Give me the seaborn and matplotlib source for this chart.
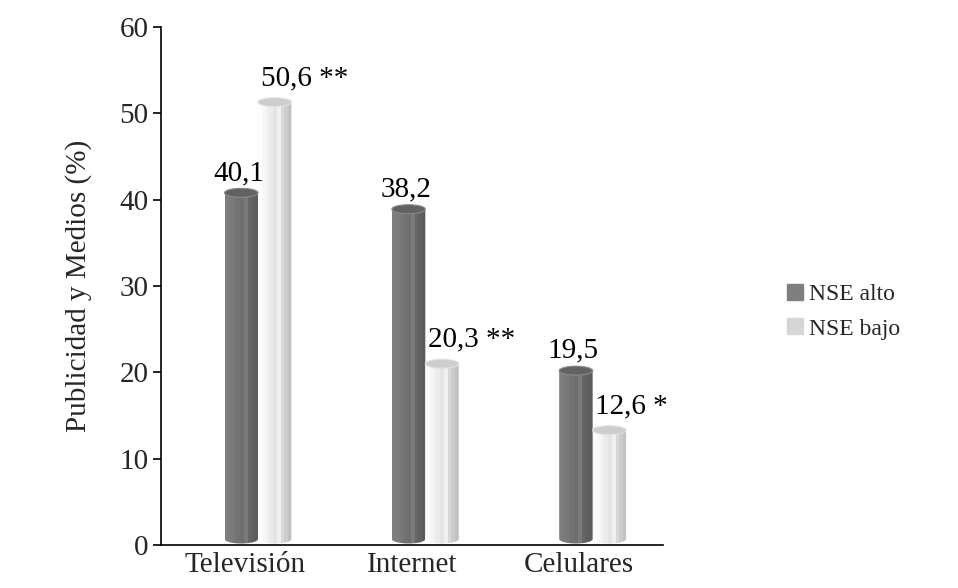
import numpy as np
import pandas as pd
import matplotlib
matplotlib.use("Agg")
import matplotlib.pyplot as plt
import seaborn as sns
from matplotlib.patches import Ellipse, PathPatch
from matplotlib.path import Path
from matplotlib.lines import Line2D
from matplotlib.transforms import ScaledTranslation
from matplotlib.colors import ListedColormap

# Datos
categorias = ["Televisión", "Internet", "Celulares"]
grupos = ["NSE alto", "NSE bajo"]
nse_alto = [40.1, 38.2, 19.5]
nse_bajo = [50.6, 20.3, 12.6]
etiquetas_alto = ["40,1", "38,2", "19,5"]
etiquetas_bajo = ["50,6 **", "20,3 **", "12,6 *"]
yticks = [0, 10, 20, 30, 40, 50, 60]

df = pd.DataFrame({
    "Medio": categorias * 2,
    "Grupo": [grupos[0]] * 3 + [grupos[1]] * 3,
    "Valor": nse_alto + nse_bajo,
})

sns.set_theme(style="white")
plt.rcParams["font.family"] = ["Liberation Serif", "DejaVu Serif"]
FS = 21

fig = plt.figure(figsize=(9.58, 5.88), dpi=100)
ax = fig.add_axes([0.168, 0.0731, 0.524, 0.881])

paleta = {"NSE alto": "#737373", "NSE bajo": "#e6e6e6"}
sns.barplot(data=df, x="Medio", y="Valor", hue="Grupo", order=categorias,
            hue_order=grupos, palette=paleta, width=0.4, saturation=1,
            legend=False, ax=ax)

# Sombreado cilíndrico por bandas
bandas = {
    "NSE alto": ["#7e7e7e", "#7b7b7b", "#777777", "#727272", "#6e6e6e",
                 "#7a7a7a", "#666666", "#606060", "#5c5c5c"],
    "NSE bajo": ["#fdfdfd", "#f7f7f7", "#f1f1f1", "#ebebeb", "#e4e4e4",
                 "#f0f0f0", "#d8d8d8", "#cccccc", "#c2c2c2"],
}
tapa = {"NSE alto": "#626262", "NSE bajo": "#cdcdcd"}
borde_tapa = {"NSE alto": "#8a8a8a", "NSE bajo": "#e2e2e2"}

elev = ax.transData + ScaledTranslation(0, 6 / 100, fig.dpi_scale_trans)
px_to_units = 60 / (0.881 * 588)
e = 4.5 * px_to_units  # media altura de las elipses
desplazamiento = 0.08

etiquetas = {"NSE alto": etiquetas_alto, "NSE bajo": etiquetas_bajo}
for grupo, cont in zip(grupos, ax.containers):
    cmap = ListedColormap(bandas[grupo])
    for i, barra in enumerate(cont.patches):
        barra.set_x(barra.get_x() + desplazamiento)
        x0 = barra.get_x()
        w = barra.get_width()
        h = barra.get_height()
        barra.set_visible(False)
        t = np.linspace(0, np.pi, 30)
        fondo_x = x0 + w * (1 - np.cos(t)) / 2
        fondo_y = -e * np.sin(t)
        verts = [(x0, h)] + list(zip(fondo_x, fondo_y)) + [(x0 + w, h), (x0, h)]
        codes = [Path.MOVETO] + [Path.LINETO] * (len(verts) - 2) + [Path.CLOSEPOLY]
        forma = PathPatch(Path(verts, codes), transform=elev,
                          facecolor="none", edgecolor="none")
        ax.add_patch(forma)
        img = ax.imshow(np.arange(len(bandas[grupo]))[None, :], cmap=cmap,
                        extent=(x0, x0 + w, -e, h), aspect="auto",
                        interpolation="nearest", transform=elev, zorder=2)
        img.set_clip_path(forma)
        ax.add_patch(Ellipse((x0 + w / 2, h), w, 2 * e, transform=elev,
                             facecolor=tapa[grupo], edgecolor=borde_tapa[grupo],
                             linewidth=0.8, zorder=3))
        if grupo == "NSE alto":
            ax.annotate(etiquetas[grupo][i], (x0 + w / 2, h + e), xytext=(-2, 6),
                        textcoords="offset points", ha="center", va="bottom",
                        fontsize=FS, color="black", annotation_clip=False)
        else:
            ax.annotate(etiquetas[grupo][i], (x0, h + e), xytext=(2, 9),
                        textcoords="offset points", ha="left", va="bottom",
                        fontsize=FS, color="black", annotation_clip=False)

ax.set_xlim(-0.5, 2.5)
ax.set_ylim(0, 60)
ax.set_yticks(yticks)
ax.set_yticklabels([str(v) for v in yticks], fontsize=FS)
ax.set_xticks(range(len(categorias)))
ax.set_xticklabels(categorias, fontsize=FS)
ax.set_xlabel("")
ax.set_ylabel("Publicidad y Medios (%)", fontsize=FS, labelpad=20)

for lado in ["top", "right"]:
    ax.spines[lado].set_visible(False)
for lado in ["left", "bottom"]:
    ax.spines[lado].set_color("black")
    ax.spines[lado].set_linewidth(1.2)
ax.tick_params(axis="y", direction="out", length=6, width=1.2, color="black",
               pad=3, left=True)
ax.tick_params(axis="x", length=0, pad=5)
ax.grid(False)

manijas = [Line2D([], [], marker="s", linestyle="none", markersize=12,
                  markerfacecolor=c, markeredgecolor=c)
           for c in ["#7f7f7f", "#d6d6d6"]]
fig.legend(manijas, grupos, loc="center left", bbox_to_anchor=(0.795, 0.47),
           frameon=False, fontsize=17, handletextpad=0.1, labelspacing=0.55,
           handlelength=1.0)

fig.savefig("out.png", dpi=100, facecolor="white")
